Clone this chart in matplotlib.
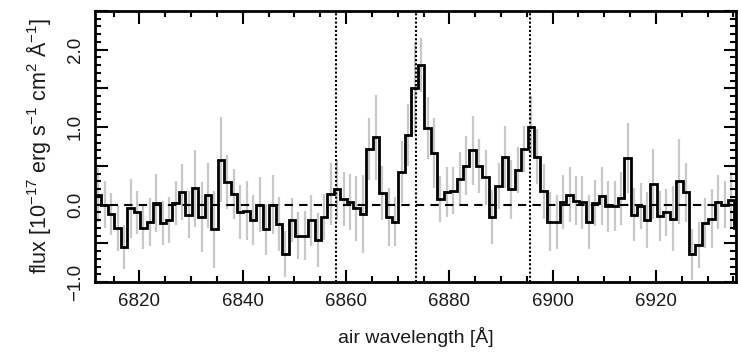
import numpy as np
import matplotlib
matplotlib.use("Agg")
import matplotlib.pyplot as plt
from matplotlib.ticker import MultipleLocator, FuncFormatter

plt.rcParams['font.family'] = ['Liberation Sans', 'DejaVu Sans']
plt.rcParams['mathtext.default'] = 'regular'

# wavelength grid (bin edges, 1.25 A sampling)
first_edge = 6811.4
bin_width = 1.25

flux = [0.12, 0.0, -0.12, -0.3, -0.55, -0.05, -0.1, -0.3, -0.22, 0.02,
        -0.24, -0.2, 0.02, 0.16, -0.13, 0.21, -0.16, 0.12, -0.32, 0.58,
        0.29, 0.14, -0.1, -0.08, -0.2, 0.0, -0.32, 0.0, -0.25, -0.64,
        -0.2, -0.4, -0.4, -0.2, -0.46, -0.16, 0.14, 0.2, 0.07, 0.03,
        -0.05, -0.12, 0.72, 0.87, 0.15, -0.16, -0.22, 0.42, 0.9, 1.5,
        1.8, 0.99, 0.67, 0.07, 0.16, 0.18, 0.33, 0.5, 0.7, 0.5,
        0.35, -0.16, 0.24, 0.62, 0.2, 0.45, 0.72, 1.0, 0.62, 0.17,
        -0.22, -0.22, 0.03, 0.13, 0.05, 0.03, -0.22, 0.02, 0.11, -0.02,
        -0.02, 0.08, 0.6, -0.13, -0.02, -0.2, 0.27, -0.15, -0.1, -0.18,
        0.3, 0.16, -0.64, -0.52, -0.24, -0.18, 0.03, 0.0, 0.06, -0.3]

flux_err = [0.35, 0.3, 0.27, 0.3, 0.28, 0.38, 0.28, 0.28, 0.31, 0.38,
            0.28, 0.3, 0.29, 0.36, 0.3, 0.5, 0.45, 0.42, 0.5, 0.55,
            0.35, 0.32, 0.35, 0.38, 0.32, 0.36, 0.33, 0.38, 0.35, 0.3,
            0.28, 0.3, 0.32, 0.33, 0.35, 0.3, 0.4, 0.38, 0.35, 0.36,
            0.42, 0.5, 0.4, 0.55, 0.35, 0.38, 0.32, 0.4, 0.4, 0.6,
            0.35, 0.4, 0.45, 0.3, 0.32, 0.3, 0.35, 0.38, 0.45, 0.35,
            0.35, 0.35, 0.3, 0.4, 0.38, 0.3, 0.3, 0.4, 0.35, 0.35,
            0.38, 0.35, 0.35, 0.36, 0.32, 0.34, 0.35, 0.3, 0.38, 0.33,
            0.32, 0.34, 0.45, 0.34, 0.3, 0.36, 0.45, 0.32, 0.3, 0.42,
            0.55, 0.38, 0.33, 0.3, 0.32, 0.38, 0.35, 0.3, 0.36, 0.35]

line_positions = [6858.0, 6873.6, 6895.6]  # [NII] 6548, Halpha, [NII] 6583

flux = np.array(flux)
flux_err = np.array(flux_err)
edges = first_edge + bin_width * np.arange(len(flux) + 1)
centers = 0.5 * (edges[:-1] + edges[1:])

fig = plt.figure(figsize=(7.41, 3.56), dpi=100)
ax = fig.add_axes([95/741, 1-282/356, (736-95)/741, (282-11)/356])

ax.vlines(centers, flux - flux_err, flux + flux_err, color='#c8c8c8', lw=1.6, zorder=1)
ax.axhline(0, color='black', lw=1.5, ls=(0, (4, 3)), zorder=2)
for lp in line_positions:
    ax.axvline(lp, color='black', lw=1.5, ls=(0, (1, 1.0)), zorder=2)
ax.stairs(flux, edges, baseline=None, color='black', lw=2.0, zorder=3)

ax.set_xlim(6811.4, 6935.5)
ax.set_ylim(-1.0, 2.5)

ax.xaxis.set_major_locator(MultipleLocator(20))
ax.xaxis.set_minor_locator(MultipleLocator(5))
ax.yaxis.set_major_locator(MultipleLocator(0.5))
ax.yaxis.set_minor_locator(MultipleLocator(0.1))

def yfmt(v, pos):
    if abs(v - round(v)) < 1e-6:
        return f"{v:.1f}".replace('-', '\u2212')
    return ''
ax.yaxis.set_major_formatter(FuncFormatter(yfmt))

ax.tick_params(which='both', direction='in', top=True, right=True, width=1.5, colors='black')
ax.tick_params(which='major', length=9)
ax.tick_params(which='minor', length=4)
ax.tick_params(axis='x', which='major', labelsize=13.5, pad=8, labelcolor='#1a1a1a')
ax.tick_params(axis='y', which='major', labelsize=13.5, pad=8, labelrotation=90, labelcolor='#1a1a1a')
for lab in ax.get_yticklabels():
    lab.set_va('center')

for s in ax.spines.values():
    s.set_linewidth(2.0)

ax.set_xlabel('air wavelength [Å]', fontsize=14, labelpad=12, color='#1a1a1a')
ax.set_ylabel('flux [10$^{-17}$ erg s$^{-1}$ cm$^{2}$ Å$^{-1}$]', fontsize=15.5,
              labelpad=10, color='#1a1a1a')

fig.savefig('out.png', dpi=100)
